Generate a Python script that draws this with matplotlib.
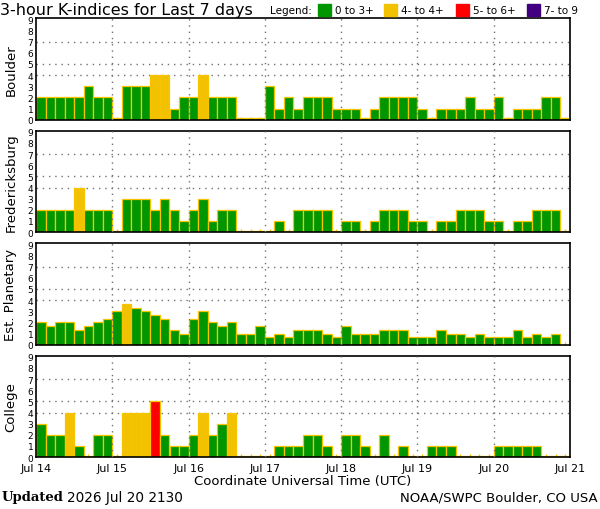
import numpy as np
import matplotlib
matplotlib.use("Agg")
from matplotlib import pyplot as plt
from matplotlib.patches import Rectangle

# 3-hourly K values, 8 per day, Jul 14 .. Jul 20
boulder = [2, 2, 2, 2, 2, 3, 2, 2,
           0, 3, 3, 3, 4, 4, 1, 2,
           2, 4, 2, 2, 2, 0, 0, 0,
           3, 1, 2, 1, 2, 2, 2, 1,
           1, 1, 0, 1, 2, 2, 2, 2,
           1, 0, 1, 1, 1, 2, 1, 1,
           2, 0, 1, 1, 1, 2, 2, 0]
fredericksburg = [2, 2, 2, 2, 4, 2, 2, 2,
                  0, 3, 3, 3, 2, 3, 2, 1,
                  2, 3, 1, 2, 2, 0, 0, 0,
                  0, 1, 0, 2, 2, 2, 2, 0,
                  1, 1, 0, 1, 2, 2, 2, 1,
                  1, 0, 1, 1, 2, 2, 2, 1,
                  1, 0, 1, 1, 2, 2, 2, 0]
planetary = [2.00, 1.67, 2.00, 2.00, 1.33, 1.67, 2.00, 2.33,
             3.00, 3.67, 3.33, 3.00, 2.67, 2.33, 1.33, 1.00,
             2.33, 3.00, 2.00, 1.67, 2.00, 1.00, 1.00, 1.67,
             0.67, 1.00, 0.67, 1.33, 1.33, 1.33, 1.00, 0.67,
             1.67, 1.00, 1.00, 1.00, 1.33, 1.33, 1.33, 0.67,
             0.67, 0.67, 1.33, 1.00, 1.00, 0.67, 1.00, 0.67,
             0.67, 0.67, 1.33, 0.67, 1.00, 0.67, 1.00, np.nan]
college = [3, 2, 2, 4, 1, 0, 2, 2,
           0, 4, 4, 4, 5, 2, 1, 1,
           2, 4, 2, 3, 4, 0, 0, 0,
           0, 1, 1, 1, 2, 2, 1, 0,
           2, 2, 1, 0, 2, 0, 1, 0,
           0, 1, 1, 1, 0, 0, 0, 0,
           1, 1, 1, 1, 1, 0, 0, 0]

stations = ["Boulder", "Fredericksburg", "Est. Planetary", "College"]
series = [boulder, fredericksburg, planetary, college]
day_labels = ["Jul 14", "Jul 15", "Jul 16", "Jul 17", "Jul 18", "Jul 19", "Jul 20", "Jul 21"]
legend_labels = ["0 to 3+", "4- to 4+", "5- to 6+", "7- to 9"]

GREEN = "#009600"
YELLOW = "#F2C200"
RED = "#FF0000"
PURPLE = "#40007F"
EDGE = "#F8C400"


def kcolor(v):
    if v < 3.5:
        return GREEN
    if v < 4.5:
        return YELLOW
    if v < 6.5:
        return RED
    return PURPLE


W, H = 600, 510
fig = plt.figure(figsize=(W / 100, H / 100), dpi=100)
fig.patch.set_facecolor("white")

left, right = 36, 570
tops = [19.3, 131.7, 244.3, 356.7]
ph = 101.4

for n, (name, vals) in enumerate(zip(stations, series)):
    ax = fig.add_axes([left / W, 1 - (tops[n] + ph) / H, (right - left) / W, ph / H])
    x = np.arange(len(vals)) + 0.5
    vals = np.array(vals, dtype=float)
    ok = ~np.isnan(vals)
    heights = np.where(vals[ok] == 0, 0.12, vals[ok])
    ax.bar(x[ok], heights, width=1.0, color=[kcolor(v) for v in vals[ok]],
           edgecolor=EDGE, linewidth=0.9, zorder=2)

    ax.set_xlim(0, 56)
    ax.set_ylim(0, 9.1)
    for yg in [4, 5, 7]:
        ax.axhline(yg, color="#707070", linestyle=(0, (1, 3.5)), linewidth=1.0, zorder=1)
    for xg in range(8, 56, 8):
        ax.axvline(xg, color="#707070", linestyle=(0, (1, 3.5)), linewidth=1.0, zorder=3)

    ax.set_yticks(range(10))
    ax.set_yticklabels([str(i) for i in range(10)], fontsize=6.5)
    ax.tick_params(axis="y", length=0, pad=2)
    ax.set_xticks(range(0, 57, 8))
    ax.set_xticks(x, minor=True)
    ax.tick_params(axis="x", which="major", length=0)
    ax.tick_params(axis="x", which="minor", direction="in", length=2.5,
                   color=EDGE, width=1, zorder=4)
    if n == 3:
        ax.set_xticklabels(day_labels, fontsize=8)
        ax.tick_params(axis="x", which="major", pad=4)
        ax.set_xlabel("Coordinate Universal Time (UTC)", fontsize=9.5, labelpad=1)
    else:
        ax.set_xticklabels([])

    for s in ax.spines.values():
        s.set_linewidth(1.2)
        s.set_color("black")
    ax.spines["right"].set_linestyle((0, (2, 1)))
    fig.text(11 / W, 1 - (tops[n] + ph / 2) / H, name, fontsize=9.5,
             rotation=90, va="center", ha="center")

# title and legend
fig.text(0 / W, 1 - 10 / H, "3-hour K-indices for Last 7 days", fontsize=11.5,
         va="center", ha="left")
fig.text(270 / W, 1 - 11 / H, "Legend:", fontsize=7.5, va="center", ha="left")
leg_x = [318, 384, 456, 527]
for lx, lab, col in zip(leg_x, legend_labels, [GREEN, YELLOW, RED, PURPLE]):
    fig.patches.append(Rectangle((lx / W, 1 - 17 / H), 13 / W, 12 / H,
                                 transform=fig.transFigure, color=col))
    fig.text((lx + 17) / W, 1 - 11 / H, lab, fontsize=7.5, va="center", ha="left")

# footer
fig.text(2 / W, 1 - 498 / H, "Updated", fontsize=9.5, fontweight="bold",
         family="DejaVu Serif", va="center", ha="left")
fig.text(67 / W, 1 - 498 / H, "2026 Jul 20 2130", fontsize=9.8, va="center", ha="left")
fig.text(598 / W, 1 - 498 / H, "NOAA/SWPC Boulder, CO USA", fontsize=9.5,
         va="center", ha="right")

fig.savefig("out.png", dpi=100, facecolor="white")
